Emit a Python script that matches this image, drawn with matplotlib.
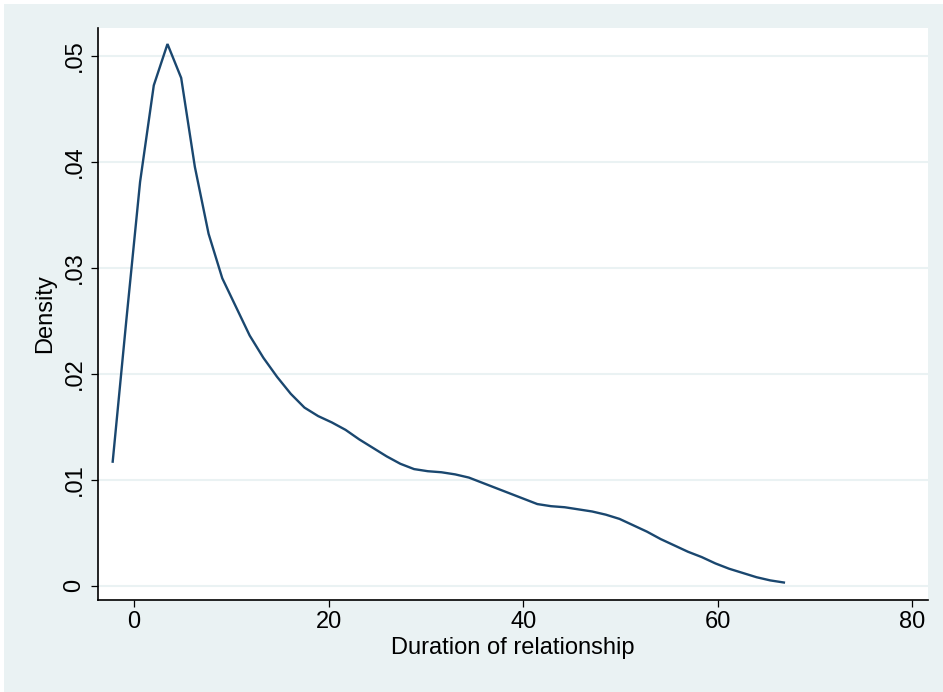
import numpy as np
import matplotlib
matplotlib.use("Agg")
import matplotlib.pyplot as plt
from matplotlib.patches import Rectangle
from matplotlib.ticker import FixedLocator

# Kernel density estimate, 50 evaluation points
x_start, x_end, n_points = -2.19, 66.79, 50
duration = np.linspace(x_start, x_end, n_points)
density = [0.0117, 0.0251, 0.0381, 0.0472, 0.0511, 0.0479, 0.0395, 0.0332, 0.0290, 0.0263,
           0.0236, 0.0215, 0.0197, 0.0181, 0.0168, 0.0160, 0.0154, 0.0147, 0.0138, 0.0130,
           0.0122, 0.0115, 0.0110, 0.0108, 0.0107, 0.0105, 0.0102, 0.0097, 0.0092, 0.0087,
           0.0082, 0.0077, 0.0075, 0.0074, 0.0072, 0.0070, 0.0067, 0.0063, 0.0057, 0.0051,
           0.0044, 0.0038, 0.0032, 0.0027, 0.0021, 0.0016, 0.0012, 0.0008, 0.0005, 0.0003]

x_ticks = [0, 20, 40, 60, 80]
x_tick_labels = ["0", "20", "40", "60", "80"]
y_ticks = [0, 0.01, 0.02, 0.03, 0.04, 0.05]
y_tick_labels = ["0", ".01", ".02", ".03", ".04", ".05"]
x_label = "Duration of relationship"
y_label = "Density"

BG = "#EAF2F3"
LINE = "#1A476F"

plt.rcParams['font.family'] = ['Liberation Sans', 'DejaVu Sans']

W, H = 943, 692
fig = plt.figure(figsize=(W / 100, H / 100), dpi=100, facecolor="white")
fig.patches.append(Rectangle((4 / W, 0), 1 - 4 / W, (H - 4) / H,
                             transform=fig.transFigure, facecolor=BG,
                             edgecolor="none", zorder=-10))

ax = fig.add_axes([98 / W, (H - 600) / H, 830 / W, 572 / H])
ax.set_facecolor("white")
ax.plot(duration, density, color=LINE, lw=1.7, solid_joinstyle="miter", zorder=3)

ax.set_xlim(-3.70, 81.6)
ax.set_ylim(-0.00135, 0.05261)

ax.xaxis.set_major_locator(FixedLocator(x_ticks))
ax.set_xticklabels(x_tick_labels)
ax.yaxis.set_major_locator(FixedLocator(y_ticks))
ax.set_yticklabels(y_tick_labels, rotation=90, va="center")

for s in ["top", "right"]:
    ax.spines[s].set_visible(False)
for s in ["left", "bottom"]:
    ax.spines[s].set_color("black")
    ax.spines[s].set_linewidth(1.2)

ax.tick_params(axis="both", direction="out", length=5, width=0.9, color="black",
               labelsize=17, labelcolor="black")
ax.tick_params(axis="x", pad=3)
ax.tick_params(axis="y", pad=4)

ax.yaxis.grid(True, color=BG, lw=1.5, zorder=0)
ax.xaxis.grid(False)
ax.set_axisbelow(True)

ax.set_xlabel(x_label, fontsize=17, labelpad=3)
ax.set_ylabel(y_label, fontsize=17, labelpad=5)

fig.savefig("out.png", dpi=100, facecolor=fig.get_facecolor())
